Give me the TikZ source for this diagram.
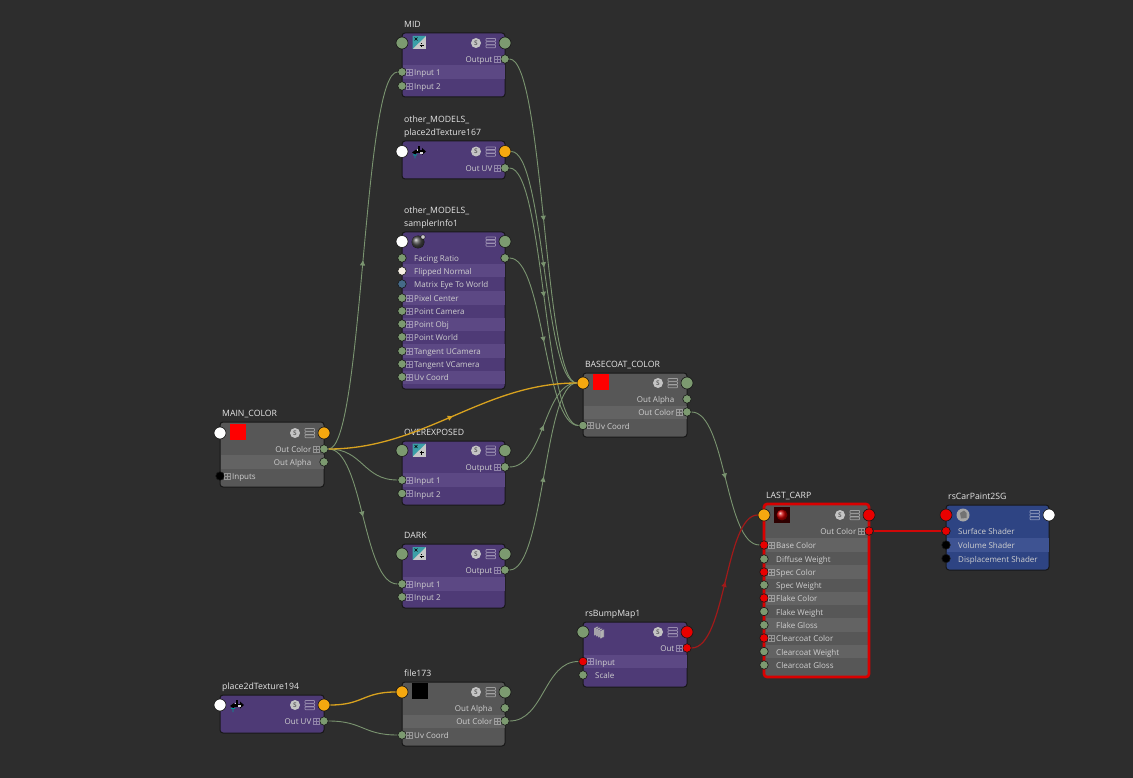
\documentclass[tikz,border=0pt]{standalone}
\usepackage{fontspec}
\setmainfont{Open Sans}
\usetikzlibrary{arrows.meta,decorations.markings}
\definecolor{bgc}{HTML}{2D2D2D}
\definecolor{purp}{HTML}{4E3A76}
\definecolor{purpl}{HTML}{5C4884}
\definecolor{gry}{HTML}{575757}
\definecolor{gryl}{HTML}{636363}
\definecolor{blu}{HTML}{2E4483}
\definecolor{blul}{HTML}{3E5392}
\definecolor{edgec}{HTML}{171717}
\definecolor{pgreen}{HTML}{7C9A70}
\definecolor{porange}{HTML}{F5A80F}
\definecolor{pred}{HTML}{E80000}
\definecolor{pblue}{HTML}{456A88}
\definecolor{pcream}{HTML}{F6F0E4}
\definecolor{wsage}{HTML}{7A9470}
\definecolor{wyellow}{HTML}{D8A21F}
\definecolor{wred}{HTML}{A01A1A}
\definecolor{wbright}{HTML}{D00808}
\definecolor{txtc}{HTML}{CFCFCF}
\definecolor{ttlc}{HTML}{E6E6E6}
\definecolor{scirc}{HTML}{C4C4C4}
\definecolor{iconteal}{HTML}{3B9FA8}
\tikzset{
  shbase/.style={rectangle,rounded corners=3pt,draw=edgec,line width=1pt,inner sep=0,outer sep=0,anchor=north west},
  shtitle/.style={anchor=south west,inner sep=0,align=left,text=ttlc,font=\fontsize{8.7}{13}\selectfont},
  rowtxt/.style={inner sep=0,text=txtc,font=\fontsize{8}{10}\selectfont},
  portbig/.style={circle,minimum size=12pt,inner sep=0,draw=edgec,line width=.6pt},
  portsmall/.style={circle,minimum size=8.5pt,inner sep=0,draw=edgec,line width=.6pt},
  sbadge/.style={circle,minimum size=10pt,inner sep=0,fill=scirc,text=black!60,font=\fontsize{6.5}{7}\selectfont\bfseries},
  wirebase/.style={draw=wsage,line width=.9pt},
  wireyel/.style={draw=wyellow,line width=1.3pt},
  wirered/.style={draw=wred,line width=1.2pt},
  wirelive/.style={draw=wbright,line width=1.5pt},
  midtip/.style={postaction={decorate,decoration={markings,mark=at position .5 with {\arrow{Triangle[width=5pt,length=5pt]}}}}}
}
\newcommand\shbox[7]{%
  \def\bL{#2}\def\bR{#4}\def\bI{.5}%
  \node[shbase,fill=#6,minimum width={(#4-#2)*1pt},minimum height={(#5-#3)*1pt}] (#1) at (#2,#3) {};
  \node[shtitle] (#1-title) at (#2+2,#3-2) {#7\rule[-3pt]{0pt}{1pt}};
}
\newcommand\rowband[3]{\fill[#3] (\bL+\bI,#1) rectangle (\bR-\bI,#2);}
\newcommand\plusbox[2]{%
  \draw[white,opacity=.38,line width=.5pt] (#1-3,#2-3) rectangle (#1+3,#2+3) (#1-3,#2) -- (#1+3,#2) (#1,#2-3) -- (#1,#2+3);}
% left row: id, name, y, text, colour, plus
\newcommand\inrow[6]{%
  \node[portsmall,fill=#5] (#1-#2) at (\bL,#3) {};
  \ifnum#6=1 \plusbox{\bL+7.5}{#3}\fi
  \ifx\relax#4\relax\else\node[rowtxt,anchor=mid west] (#1-#2-txt) at (\bL+12,#3+1.1) {#4};\fi
}
\newcommand\outrow[6]{%
  \node[portsmall,fill=#5] (#1-#2) at (\bR,#3) {};
  \ifnum#6=1 \plusbox{\bR-8}{#3}\fi
  \node[rowtxt,anchor=mid east] (#1-#2-txt) at (\bR-12.5,#3+1.1) {#4};
}
\newcommand\menuicon[1]{%
  \foreach \dy in {-4.5,-1.2,2.1}{\draw[white,opacity=.42,line width=.7pt,rounded corners=.5pt] (\bR-19,#1+\dy) rectangle (\bR-9.5,#1+\dy+2.6);}}
\newcommand\header[5]{% id, y, left colour, right colour, S badge?
  \node[portbig,fill=#3] (#1-in) at (\bL,#2) {};
  \node[portbig,fill=#4] (#1-out) at (\bR,#2) {};
  \menuicon{#2}
  \ifnum#5=1 \node[sbadge] (#1-badge) at (\bR-29,#2) {S};\fi
}
\newcommand\swatch[2]{\fill[#2] (\bL+9.5,#1-9) rectangle (\bL+25.5,#1+7);}
\newcommand\mathicon[2]{% y, plus?
  \fill[white!78!black] (\bL+10.5,#1-7) rectangle (\bL+24,#1+6);
  \fill[iconteal] (\bL+10.5,#1-7) -- (\bL+24,#1-7) -- (\bL+10.5,#1+6) -- cycle;
  \draw[black,line width=.6pt] (\bL+12.5,#1-5.5) -- (\bL+15.5,#1-2.5) (\bL+15.5,#1-5.5) -- (\bL+12.5,#1-2.5);
  \draw[black,line width=.6pt] (\bL+17.5,#1+2) -- (\bL+21.5,#1+2);
  \ifnum#2=1 \draw[black,line width=.6pt] (\bL+19.5,#1) -- (\bL+19.5,#1+4);
  \else \fill[black] (\bL+19.2,#1+.1) rectangle (\bL+19.9,#1+.9) (\bL+19.2,#1+3.1) rectangle (\bL+19.9,#1+3.9);\fi
}
\newcommand\placeicon[1]{%
  \fill[black] (\bL+10,#1+1) -- (\bL+14,#1-2) -- (\bL+14,#1+3.5) -- cycle;
  \fill[black] (\bL+24,#1) -- (\bL+20,#1-3.5) -- (\bL+20,#1+3.5) -- cycle;
  \fill[black] (\bL+14,#1-1) rectangle (\bL+20,#1+2);
  \fill[black] (\bL+15.5,#1-5) rectangle (\bL+18,#1+2);
  \fill[white!85!black] (\bL+14.5,#1-2.5) rectangle (\bL+16,#1-.8);
  \fill[white!85!black] (\bL+18,#1+.2) rectangle (\bL+20.5,#1+2.2);
  \fill[teal!80!cyan] (\bL+11,#1+3) rectangle (\bL+15,#1+3.8) (\bL+12.6,#1+3) rectangle (\bL+13.4,#1+7);
}
\begin{document}
\begin{tikzpicture}[x=1pt,y=-1pt]
\useasboundingbox (0,0) rectangle (1133,778);
\fill[bgc] (0,0) rectangle (1133,778);

% MID
\shbox{mid}{402}{33}{505}{97}{purp}{MID}
\rowband{65}{79}{purpl}
\header{mid}{43}{pgreen}{pgreen}{1}
\mathicon{43}{0}
\outrow{mid}{o}{59}{Output}{pgreen}{1}
\inrow{mid}{a}{72}{Input 1}{pgreen}{1}
\inrow{mid}{b}{86}{Input 2}{pgreen}{1}

% place2dTexture167
\shbox{pt}{402}{141}{505}{179}{purp}{other\_MODELS\_\\place2dTexture167}
\header{pt}{151.5}{white}{porange}{1}
\placeicon{151.5}
\outrow{pt}{uv}{168}{Out UV}{pgreen}{1}

% samplerInfo
\shbox{si}{402}{232}{505}{389}{purp}{other\_MODELS\_\\samplerInfo1}
\rowband{264.5}{277.5}{purpl}
\rowband{291}{304.5}{purpl}
\rowband{317.5}{330.5}{purpl}
\rowband{344}{357.5}{purpl}
\rowband{370.5}{384}{purpl}
\header{si}{241.5}{white}{pgreen}{0}
\fill[ball color=gray!60!black] (418,242) circle[radius=6.3pt];
\fill[white!80!black,draw=black,line width=.3pt] (423,237) circle[radius=2.2pt];
\inrow{si}{fr}{258}{Facing Ratio}{pgreen}{0}
\node[portsmall,fill=pgreen] (si-fro) at (\bR,258) {};
\inrow{si}{fn}{271}{Flipped Normal}{pcream}{0}
\inrow{si}{me}{284}{Matrix Eye To World}{pblue}{0}
\inrow{si}{pc}{298}{Pixel Center}{pgreen}{1}
\inrow{si}{pa}{311}{Point Camera}{pgreen}{1}
\inrow{si}{po}{324}{Point Obj}{pgreen}{1}
\inrow{si}{pw}{337}{Point World}{pgreen}{1}
\inrow{si}{tu}{351}{Tangent UCamera}{pgreen}{1}
\inrow{si}{tv}{364}{Tangent VCamera}{pgreen}{1}
\inrow{si}{uv}{377}{Uv Coord}{pgreen}{1}

% MAIN_COLOR
\shbox{mc}{220}{422}{324}{487}{gry}{MAIN\_COLOR}
\rowband{455}{469}{gryl}
\header{mc}{433}{white}{porange}{1}
\swatch{433}{red}
\outrow{mc}{o}{449}{Out Color}{pgreen}{1}
\outrow{mc}{al}{462}{Out Alpha}{pgreen}{0}
\inrow{mc}{i}{476}{Inputs}{black}{1}

% OVEREXPOSED
\shbox{ov}{402}{441}{505}{505}{purp}{OVEREXPOSED}
\rowband{473}{487}{purpl}
\header{ov}{450.5}{pgreen}{pgreen}{1}
\mathicon{450.5}{1}
\outrow{ov}{o}{467}{Output}{pgreen}{1}
\inrow{ov}{a}{480}{Input 1}{pgreen}{1}
\inrow{ov}{b}{493.5}{Input 2}{pgreen}{1}

% DARK
\shbox{dk}{402}{544}{505}{608}{purp}{DARK}
\rowband{577}{590.5}{purpl}
\header{dk}{554}{pgreen}{pgreen}{1}
\mathicon{554}{0}
\outrow{dk}{o}{570}{Output}{pgreen}{1}
\inrow{dk}{a}{584}{Input 1}{pgreen}{1}
\inrow{dk}{b}{597}{Input 2}{pgreen}{1}

% BASECOAT_COLOR
\shbox{bc}{583}{373}{687}{437}{gry}{BASECOAT\_COLOR}
\rowband{405.5}{419}{gryl}
\header{bc}{383}{porange}{pgreen}{1}
\swatch{383}{red}
\outrow{bc}{al}{399}{Out Alpha}{pgreen}{0}
\outrow{bc}{col}{412}{Out Color}{pgreen}{1}
\inrow{bc}{uv}{425.5}{Uv Coord}{pgreen}{1}

% rsBumpMap1
\shbox{bm}{583}{622}{687}{687}{purp}{rsBumpMap1}
\rowband{654.5}{668}{purpl}
\header{bm}{632}{pgreen}{pred}{1}
\foreach \k in {0,2,4,6}{\fill[white!70!black,draw=purp,line width=.4pt] (594+\k,628+.5*\k) -- (598+\k,626+.5*\k) -- (598+\k,634+.5*\k) -- (594+\k,636+.5*\k) -- cycle;}
\outrow{bm}{o}{648}{Out}{pred}{1}
\inrow{bm}{i}{661.5}{Input}{pred}{1}
\inrow{bm}{s}{675}{Scale}{pgreen}{0}

% file173
\shbox{fi}{402}{682}{505}{746}{gry}{file173}
\rowband{715}{728}{gryl}
\header{fi}{692}{porange}{pgreen}{1}
\swatch{692}{black}
\outrow{fi}{al}{708}{Out Alpha}{pgreen}{0}
\outrow{fi}{col}{721}{Out Color}{pgreen}{1}
\inrow{fi}{uv}{735}{Uv Coord}{pgreen}{1}

% place2dTexture194
\shbox{pb}{220}{695}{324}{733}{purp}{place2dTexture194}
\header{pb}{705}{white}{porange}{1}
\placeicon{705}
\outrow{pb}{uv}{721}{Out UV}{pgreen}{1}

% LAST_CARP
\shbox{lc}{764}{504}{869}{677}{gry}{LAST\_CARP}
\def\bI{1.5}
\rowband{538}{552}{gryl}
\rowband{565}{578.5}{gryl}
\rowband{591.5}{605}{gryl}
\rowband{618}{631.5}{gryl}
\rowband{645}{658}{gryl}
\draw[red!85!black,line width=2.6pt,rounded corners=3pt] (764,504) rectangle (869,677);
\header{lc}{515}{porange}{pred}{1}
\fill[black!70!red!60!black] (\bL+10,507) rectangle (\bL+26,523);
\shade[ball color=red!80!black] (\bL+18,515) circle[radius=5.5pt];
\outrow{lc}{o}{531}{Out Color}{pred}{1}
\inrow{lc}{bc}{545}{Base Color}{pred}{1}
\inrow{lc}{dw}{559}{Diffuse Weight}{pgreen}{0}
\inrow{lc}{sc}{572}{Spec Color}{pred}{1}
\inrow{lc}{sw}{585}{Spec Weight}{pgreen}{0}
\inrow{lc}{fc}{598}{Flake Color}{pred}{1}
\inrow{lc}{fw}{611.5}{Flake Weight}{pgreen}{0}
\inrow{lc}{fg}{625}{Flake Gloss}{pgreen}{0}
\inrow{lc}{cc}{638}{Clearcoat Color}{pred}{1}
\inrow{lc}{cw}{651.5}{Clearcoat Weight}{pgreen}{0}
\inrow{lc}{cg}{665}{Clearcoat Gloss}{pgreen}{0}

% rsCarPaint2SG
\shbox{sg}{946}{505}{1049}{570}{blu}{rsCarPaint2SG}
\rowband{538}{552}{blul}
\header{sg}{515}{pred}{white}{0}
\fill[white!65!black] (963,515) circle[radius=6.5pt];
\fill[black!55] (960,513) -- (964,510.5) -- (966.5,513) -- (966.5,518) -- (961,518.5) -- cycle;
\inrow{sg}{ss}{531}{Surface Shader}{pred}{0}
\inrow{sg}{vs}{545}{Volume Shader}{black}{0}
\inrow{sg}{ds}{558.5}{Displacement Shader}{black}{0}

% connectors
\newcommand\linkup[3][]{\path[wirebase,#1] (#2) .. controls +(39,0) and +(-39,0) .. (#3);}
\linkup[wirelive]{lc-o}{sg-ss}
\linkup[midtip]{mc-o}{mid-a}
\linkup{mc-o}{ov-a}
\linkup[midtip]{mc-o}{dk-a}
\linkup[midtip]{mid-o}{bc-in}
\linkup[midtip]{pt-out}{bc-in}
\linkup[midtip]{pt-uv}{bc-uv}
\linkup[midtip]{si-fro}{bc-uv}
\linkup[midtip]{ov-o}{bc-in}
\linkup[midtip]{dk-o}{bc-in}
\linkup[midtip]{bc-col}{lc-bc}
\path[wireyel,midtip] (mc-o) .. controls +(100,0) and +(-100,0) .. (bc-in);
\linkup[wirered,midtip]{bm-o}{lc-in}
\linkup[wireyel]{pb-out}{fi-in}
\linkup{pb-uv}{fi-uv}
\linkup{fi-col}{bm-i}
\end{tikzpicture}
\end{document}
